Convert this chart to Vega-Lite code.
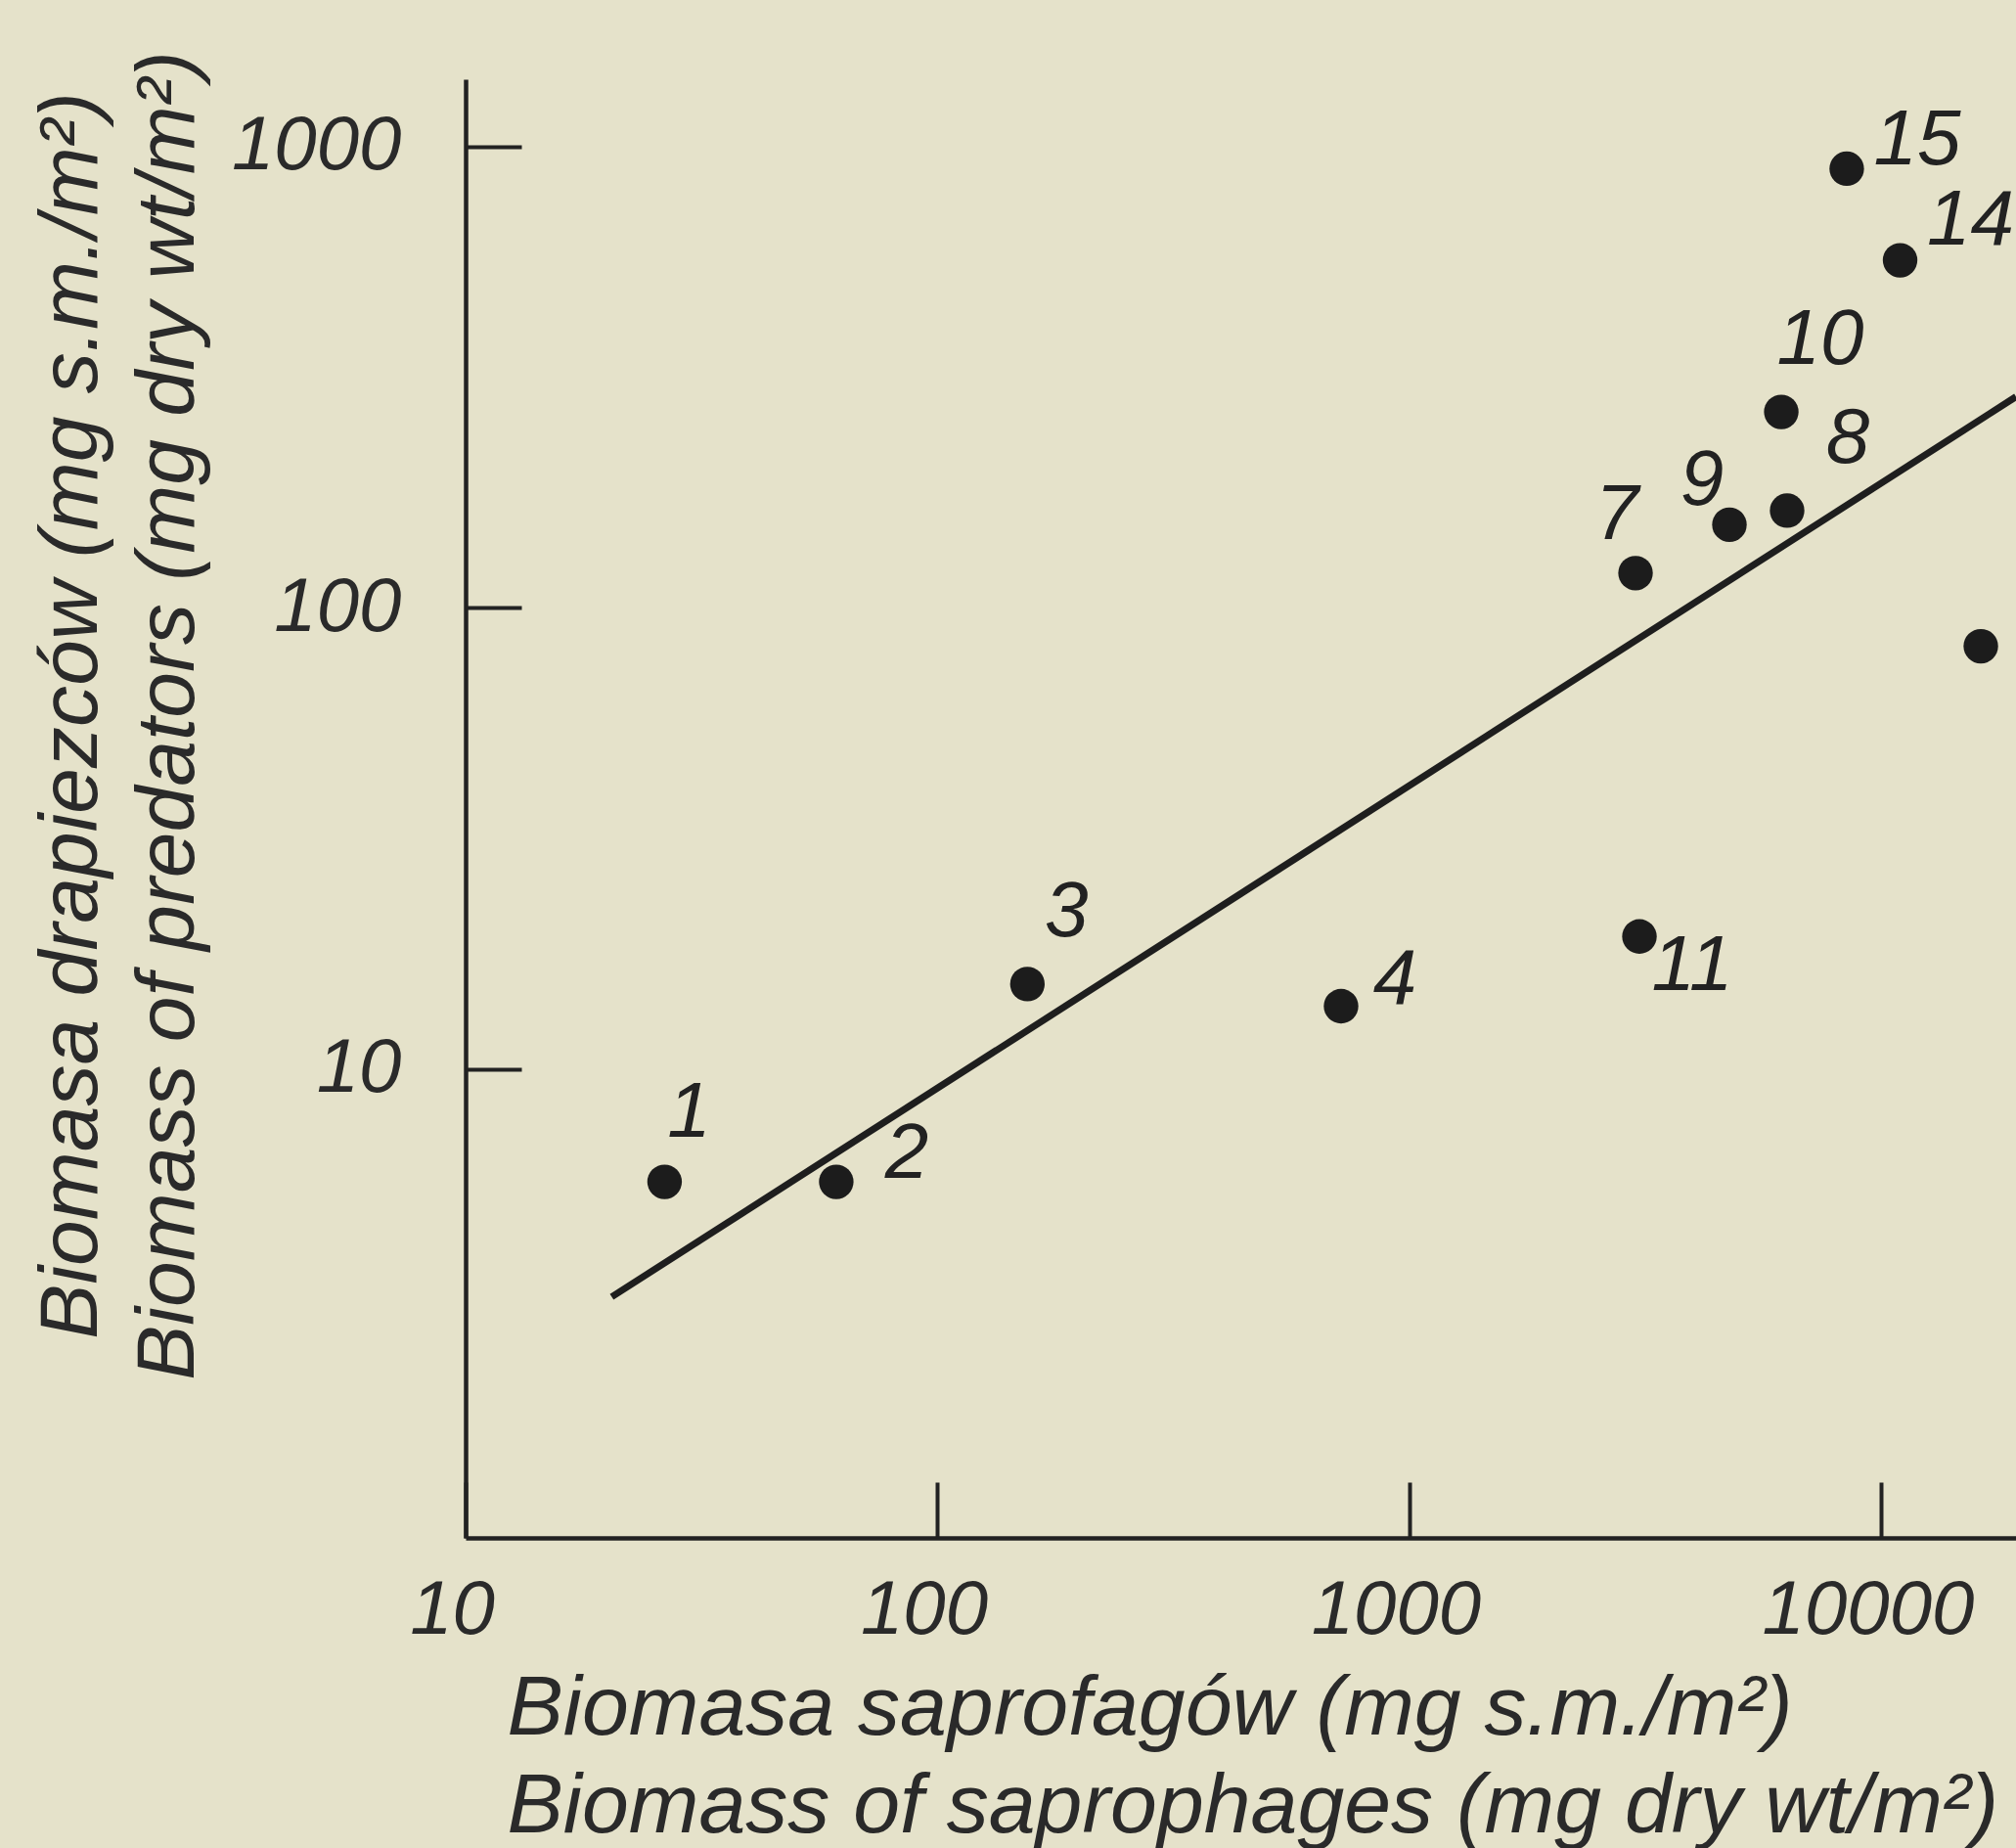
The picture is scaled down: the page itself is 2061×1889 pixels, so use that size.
{
  "$schema": "https://vega.github.io/schema/vega-lite/v6.json",
  "autosize": {"type": "none"},
  "padding": {"left": 476, "top": 81, "right": 0, "bottom": 317},
  "width": 1585,
  "height": 1491,
  "background": "#e5e2ca",
  "config": {"view": {"stroke": null}},
  "datasets": {
    "pts": [
      {"id": "1", "sapro": 26.4, "pred": 5.7},
      {"id": "2", "sapro": 61.0, "pred": 5.7},
      {"id": "3", "sapro": 155, "pred": 15.3},
      {"id": "4", "sapro": 716, "pred": 13.7},
      {"id": "11", "sapro": 3070, "pred": 19.4},
      {"id": "7", "sapro": 3012, "pred": 119},
      {"id": "9", "sapro": 4762, "pred": 151.5},
      {"id": "8", "sapro": 6310, "pred": 162.6},
      {"id": "10", "sapro": 6133, "pred": 266},
      {"id": "15", "sapro": 8440, "pred": 896},
      {"id": "14", "sapro": 10950, "pred": 567},
      {"id": "", "sapro": 16235, "pred": 82.6}
    ],
    "fit": [
      {"sapro": 20.4, "pred": 3.21},
      {"sapro": 19275, "pred": 287}
    ]
  },
  "encoding": {
    "x": {
      "field": "sapro", "type": "quantitative",
      "scale": {"type": "log", "domain": [10, 19275], "nice": false, "zero": false},
      "axis": {
        "values": [10, 100, 1000, 10000], "format": "d", "grid": false,
        "domainColor": "#222222", "domainWidth": 4.5,
        "tickColor": "#222222", "tickWidth": 4, "tickSize": -57,
        "labelFont": "Liberation Sans", "labelFontStyle": "italic", "labelFontSize": 78,
        "labelColor": "#2a2a2a", "labelPadding": 131, "labelBaseline": "middle", "labelAlign": "center",
        "labelOffset": -14, "labelFlush": false, "labelOverlap": false, "labelLimit": 600,
        "title": ["Biomasa saprofagów (mg s.m./m²)", "Biomass of saprophages (mg dry wt/m²)"],
        "titleFont": "Liberation Sans", "titleFontStyle": "italic", "titleFontWeight": "normal",
        "titleFontSize": 86, "titleColor": "#2a2a2a", "titleAlign": "left", "titleBaseline": "alphabetic",
        "titleX": 42, "titleY": 200, "titleLineHeight": 100, "titleLimit": 2000
      }
    },
    "y": {
      "field": "pred", "type": "quantitative",
      "scale": {"type": "log", "domain": [0.964, 1400], "nice": false, "zero": false},
      "axis": {
        "values": [10, 100, 1000], "format": "d", "grid": false,
        "domainColor": "#222222", "domainWidth": 4.5,
        "tickColor": "#222222", "tickWidth": 4, "tickSize": -57,
        "labelFont": "Liberation Sans", "labelFontStyle": "italic", "labelFontSize": 78,
        "labelColor": "#2a2a2a", "labelPadding": 123, "labelBaseline": "middle", "labelAlign": "right",
        "labelFlush": false, "labelOverlap": false, "labelLimit": 600,
        "title": ["Biomasa drapiezców (mg s.m./m²)", "Biomass of predators (mg dry wt/m²)"],
        "titleFont": "Liberation Sans", "titleFontStyle": "italic", "titleFontWeight": "normal",
        "titleFontSize": 84, "titleColor": "#2a2a2a", "titleAlign": "center", "titleBaseline": "alphabetic",
        "titleAngle": 270, "titleX": -378, "titleY": 650, "titleLineHeight": 99, "titleLimit": 2000
      }
    }
  },
  "layer": [
    {"data": {"name": "fit"}, "mark": {"type": "line", "color": "#1e1e1e", "strokeWidth": 7}, "encoding": {}},
    {"data": {"name": "pts"}, "mark": {"type": "circle", "color": "#1c1c1c", "opacity": 1, "size": 1250}},
    {"data": {"name": "pts"}, "transform": [{"filter": {"field": "id", "oneOf": ["1"]}}],
     "mark": {"type": "text", "dx": 25, "dy": -70, "font": "Liberation Sans", "fontStyle": "italic", "fontSize": 80, "color": "#222222"},
     "encoding": {"text": {"field": "id"}}},
    {"data": {"name": "pts"}, "transform": [{"filter": {"field": "id", "oneOf": ["3", "10"]}}],
     "mark": {"type": "text", "dx": 40, "dy": -73, "font": "Liberation Sans", "fontStyle": "italic", "fontSize": 80, "color": "#222222"},
     "encoding": {"text": {"field": "id"}}},
    {"data": {"name": "pts"}, "transform": [{"filter": {"field": "id", "oneOf": ["8"]}}],
     "mark": {"type": "text", "dx": 62, "dy": -73, "font": "Liberation Sans", "fontStyle": "italic", "fontSize": 80, "color": "#222222"},
     "encoding": {"text": {"field": "id"}}},
    {"data": {"name": "pts"}, "transform": [{"filter": {"field": "id", "oneOf": ["2", "15"]}}],
     "mark": {"type": "text", "dx": 72, "dy": -28, "font": "Liberation Sans", "fontStyle": "italic", "fontSize": 80, "color": "#222222"},
     "encoding": {"text": {"field": "id"}}},
    {"data": {"name": "pts"}, "transform": [{"filter": {"field": "id", "oneOf": ["4"]}}],
     "mark": {"type": "text", "dx": 55, "dy": -26, "font": "Liberation Sans", "fontStyle": "italic", "fontSize": 80, "color": "#222222"},
     "encoding": {"text": {"field": "id"}}},
    {"data": {"name": "pts"}, "transform": [{"filter": {"field": "id", "oneOf": ["14"]}}],
     "mark": {"type": "text", "dx": 72, "dy": -40, "font": "Liberation Sans", "fontStyle": "italic", "fontSize": 80, "color": "#222222"},
     "encoding": {"text": {"field": "id"}}},
    {"data": {"name": "pts"}, "transform": [{"filter": {"field": "id", "oneOf": ["11"]}}],
     "mark": {"type": "text", "dx": 54, "dy": 31, "font": "Liberation Sans", "fontStyle": "italic", "fontSize": 80, "color": "#222222"},
     "encoding": {"text": {"field": "id"}}},
    {"data": {"name": "pts"}, "transform": [{"filter": {"field": "id", "oneOf": ["7"]}}],
     "mark": {"type": "text", "dx": -19, "dy": -59, "font": "Liberation Sans", "fontStyle": "italic", "fontSize": 80, "color": "#222222"},
     "encoding": {"text": {"field": "id"}}},
    {"data": {"name": "pts"}, "transform": [{"filter": {"field": "id", "oneOf": ["9"]}}],
     "mark": {"type": "text", "dx": -28, "dy": -44, "font": "Liberation Sans", "fontStyle": "italic", "fontSize": 80, "color": "#222222"},
     "encoding": {"text": {"field": "id"}}}
  ]
}
